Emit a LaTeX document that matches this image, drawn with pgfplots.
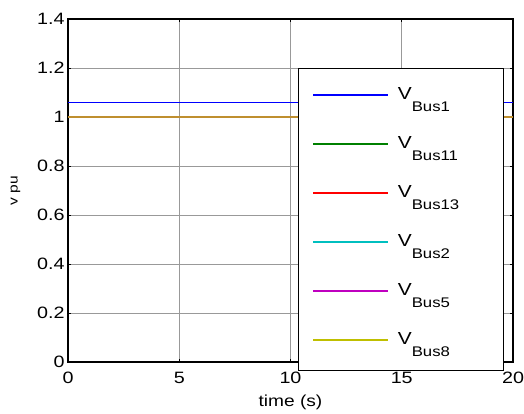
\documentclass[border=0pt]{standalone}
\usepackage{fontspec}
\setmainfont{Liberation Sans}[FakeStretch=1.2]
\usepackage{pgfplots}
\pgfplotsset{compat=1.18}
\definecolor{mgreen}{rgb}{0,0.5,0}
\definecolor{mcyan}{rgb}{0,0.75,0.75}
\definecolor{mmag}{rgb}{0.75,0,0.75}
\definecolor{myel}{rgb}{0.75,0.75,0}
\newcommand{\Vb}[1]{\hspace{9bp}\raisebox{5bp}{\makebox[92bp][l]{\rule[-10bp]{0pt}{22bp}\fontsize{17.5}{20}\selectfont V\smash{\raisebox{-12bp}{\fontsize{14}{15}\selectfont #1}}}}}
\begin{document}
\begin{tikzpicture}
\begin{axis}[
  scale only axis,
  width=445bp, height=343bp,
  xmin=0, xmax=20, ymin=0, ymax=1.4,
  xtick={0,5,10,15,20},
  ytick={0,0.2,0.4,0.6,0.8,1,1.2,1.4},
  yticklabels={0,0.2,0.4,0.6,0.8,1,1.2,1.4},
  xticklabels={0,5,10,15,20},
  tick align=inside,
  tick style={black, line width=0.6pt},
  major tick length=3bp,
  grid=major,
  grid style={gray!80, line width=0.6pt},
  axis line style={black, line width=1.3pt},
  ticklabel style={font=\fontsize{16.5}{18}\selectfont},
  xticklabel style={yshift=-7bp},
  xlabel={time (s)},
  ylabel={v pu},
  xlabel style={font=\fontsize{16}{18}\selectfont, yshift=-4bp},
  ylabel style={font=\fontsize{13}{14}\selectfont, yshift=10bp},
  legend style={at={(0.517,0.857)}, anchor=north west, draw=black, line width=1pt, fill=white,
    inner xsep=14bp, inner ysep=4bp, row sep=0pt,
    nodes={inner sep=0pt, minimum height=49bp}},
  legend cell align=left,
  legend image code/.code={\draw[#1, line width=1.3pt, opacity=1] (0bp,2bp) -- (75bp,2bp);},
  legend columns=1,
]
\addplot[blue, line width=1.2pt] coordinates {(0,1.06) (20,1.06)};
\addlegendentry{\Vb{Bus1}}
\addplot[color=mgreen, line width=1.2pt] coordinates {(0,1.0) (20,1.0)};
\addlegendentry{\Vb{Bus11}}
\addplot[color=red, line width=1.2pt] coordinates {(0,1.0) (20,1.0)};
\addlegendentry{\Vb{Bus13}}
\addplot[color=mcyan, line width=1.2pt] coordinates {(0,1.0) (20,1.0)};
\addlegendentry{\Vb{Bus2}}
\addplot[color=mmag, line width=1.2pt] coordinates {(0,1.0) (20,1.0)};
\addlegendentry{\Vb{Bus5}}
\addplot[color=myel, line width=1.6pt, opacity=0.75] coordinates {(0,1.0) (20,1.0)};
\addlegendentry{\Vb{Bus8}}
\end{axis}
\pgfresetboundingbox
\path[use as bounding box] ([shift={(-68bp,-52bp)}]current axis.south west) rectangle ([shift={(11bp,19bp)}]current axis.north east);
\end{tikzpicture}
\end{document}
